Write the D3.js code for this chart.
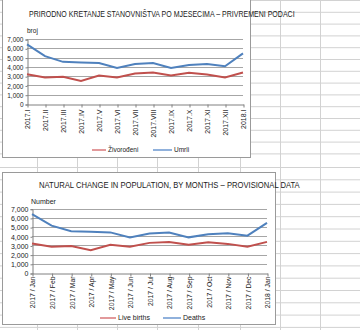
<!DOCTYPE html>
<html>
<head>
<meta charset="utf-8">
<script src="https://cdn.jsdelivr.net/npm/d3@7"></script>
<style>
  html, body { margin: 0; padding: 0; background: #fff; }
  svg { display: block; }
  text { font-family: "Liberation Sans", Arial, sans-serif; fill: #1a1a1a; }
</style>
</head>
<body>
<svg id="sheet" width="360" height="330"></svg>
<script>
// Monthly natural change in population, Jan 2017 – Jan 2018 (provisional)
const monthsHR = ["2017.I", "2017.II", "2017.III", "2017.IV", "2017.V", "2017.VI", "2017.VII",
                  "2017.VIII", "2017.IX", "2017.X", "2017.XI", "2017.XII", "2018.I"];
const monthsEN = ["2017 / Jan", "2017 / Feb", "2017 / Mar", "2017 / Apr", "2017 / May", "2017 / Jun",
                  "2017 / Jul", "2017 / Aug", "2017 / Sep", "2017 / Oct", "2017 / Nov", "2017 / Dec", "2018 / Jan"];
const liveBirths = [3200, 2850, 2930, 2480, 3070, 2860, 3280, 3380, 3080, 3360, 3170, 2860, 3390];
const deaths     = [6420, 5150, 4540, 4480, 4420, 3870, 4300, 4410, 3880, 4210, 4320, 4060, 5450];
const yTicks = [0, 1000, 2000, 3000, 4000, 5000, 6000, 7000];

const svg = d3.select("#sheet");

// spreadsheet cell grid behind the charts
const grid = svg.append("g").attr("stroke", "#d2d2d2").attr("stroke-width", 1);
const colX = [37, 77, 117, 157, 198, 240, 280, 320];
colX.forEach(x => grid.append("line").attr("x1", x + 0.5).attr("x2", x + 0.5).attr("y1", 0).attr("y2", 330));
for (let y = 0.5; y < 160; y += 11.8) grid.append("line").attr("x1", 0).attr("x2", 360).attr("y1", y).attr("y2", y);
for (let y = 167.5; y < 330; y += 12.3) grid.append("line").attr("x1", 0).attr("x2", 360).attr("y1", y).attr("y2", y);

const fmt = d3.format(",");

function drawChart(o) {
  const g = svg.append("g");
  g.append("rect").attr("x", o.box[0] + 0.5).attr("y", o.box[1] + 0.5)
    .attr("width", o.box[2] - o.box[0]).attr("height", o.box[3] - o.box[1])
    .attr("fill", "#fff").attr("stroke", "#9a9a9a");

  const x = d3.scalePoint().domain(o.cats).range([o.plot[0], o.plot[2]]);
  const y = d3.scaleLinear().domain([0, 7000]).range([o.plot[3], o.plot[1]]);

  // horizontal gridlines
  g.append("g").selectAll("line").data(yTicks.slice(1)).join("line")
    .attr("x1", o.plot[0]).attr("x2", o.plot[2])
    .attr("y1", d => Math.round(y(d)) + 0.5).attr("y2", d => Math.round(y(d)) + 0.5)
    .attr("stroke", "#a6a6a6").attr("stroke-width", 1);

  // y axis
  const ya = d3.axisLeft(y).tickValues(yTicks).tickFormat(fmt).tickSize(2).tickPadding(2);
  const yg = g.append("g").attr("transform", `translate(${o.plot[0] + 0.5},0.5)`).call(ya);
  yg.select(".domain").attr("stroke", "#808080");
  yg.selectAll(".tick line").attr("stroke", "#808080");
  yg.selectAll(".tick text").attr("font-size", o.tickFont).attr("fill", "#1a1a1a")
    .attr("font-family", "'Liberation Sans', Arial, sans-serif");

  // x axis
  const xa = d3.axisBottom(x).tickSize(3).tickSizeOuter(0).tickFormat(d => d);
  const xg = g.append("g").attr("transform", `translate(0.5,${Math.round(o.plot[3]) + 0.5})`).call(xa);
  xg.select(".domain").attr("stroke", "#808080");
  xg.selectAll(".tick line").attr("stroke", "#808080");
  xg.selectAll(".tick text")
    .attr("font-size", o.xFont).attr("fill", "#1a1a1a")
    .attr("font-family", "'Liberation Sans', Arial, sans-serif")
    .attr("transform", `translate(0,${o.xLabelTop}) rotate(-90)`)
    .attr("x", 0).attr("y", 0).attr("dy", "0.35em")
    .attr("text-anchor", "end");

  // series lines
  const line = d3.line().x((d, i) => x(o.cats[i])).y(d => y(d));
  g.append("path").datum(liveBirths).attr("d", line)
    .attr("fill", "none").attr("stroke", "#c0504d").attr("stroke-width", 2);
  g.append("path").datum(deaths).attr("d", line)
    .attr("fill", "none").attr("stroke", "#4f81bd").attr("stroke-width", 2);

  // unit label
  g.append("text").attr("x", o.unit[0]).attr("y", o.unit[1])
    .attr("font-size", o.tickFont).text(o.unitText);

  // title, squeezed horizontally to the condensed width of the heading
  const t = g.append("text").attr("x", 0).attr("y", 0)
    .attr("font-size", o.titleFont)
    .text(o.titleText);
  const natural = t.node().getComputedTextLength();
  t.attr("transform", `translate(${o.title[0]},${o.title[1]}) scale(${o.title[2] / natural},1)`);

  // legend
  o.legend.forEach(l => {
    g.append("line").attr("x1", l.x).attr("x2", l.x + l.w).attr("y1", l.y).attr("y2", l.y)
      .attr("stroke", l.color).attr("stroke-width", 1.5);
    g.append("text").attr("x", l.x + l.w + 2).attr("y", l.y).attr("dy", "0.35em")
      .attr("font-size", o.tickFont).text(l.text);
  });
}

drawChart({
  cats: monthsHR,
  box: [2, -2, 250, 157],
  plot: [27, 39, 243, 104],
  tickFont: 6.5, xFont: 7, titleFont: 9,
  xLabelTop: 5,
  unit: [27, 33], unitText: "broj",
  title: [29, 17, 266], titleText: "PRIRODNO KRETANJE STANOVNIŠTVA PO MJESECIMA – PRIVREMENI PODACI",
  legend: [
    { x: 92, y: 150, w: 14, color: "#d9777a", text: "Živorođeni" },
    { x: 153, y: 150, w: 19, color: "#6b97d0", text: "Umrli" }
  ]
});

drawChart({
  cats: monthsEN,
  box: [2, 172, 275, 324],
  plot: [32, 208.7, 267, 273],
  tickFont: 7, xFont: 6.8, titleFont: 9.5,
  xLabelTop: 3,
  unit: [31, 204], unitText: "Number",
  title: [39, 188, 261], titleText: "NATURAL CHANGE IN POPULATION, BY MONTHS – PROVISIONAL DATA",
  legend: [
    { x: 100, y: 318, w: 16, color: "#d9777a", text: "Live births" },
    { x: 163, y: 318, w: 18, color: "#6b97d0", text: "Deaths" }
  ]
});
</script>
</body>
</html>
